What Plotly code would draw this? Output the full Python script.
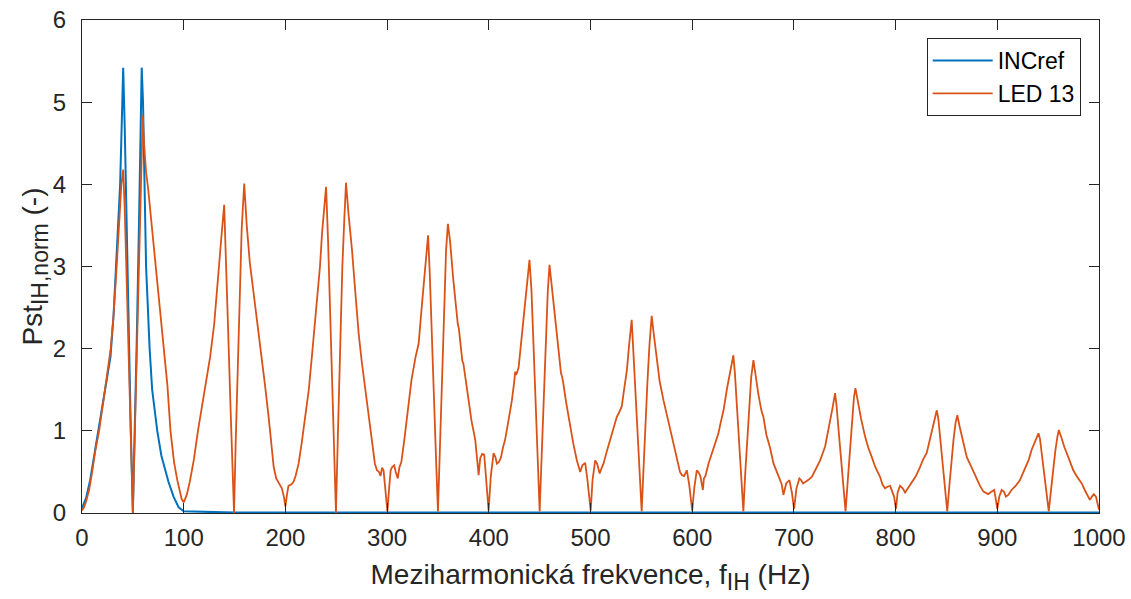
import plotly.graph_objects as go

# ---------------- data ----------------
inc_freq = [0, 4, 8, 12, 16, 20, 24, 28, 31, 33.5, 35.5, 37.5, 39, 40.5, 42, 44, 46, 48, 50,
            52, 54, 56, 57.5, 58.7, 60, 61.5, 63, 66.5, 69, 74, 78, 85, 90, 95, 100, 150, 300,
            500, 700, 1000]
inc_pst = [0.06, 0.18, 0.4, 0.7, 1.0, 1.3, 1.6, 1.9, 2.4, 3.0, 3.5, 4.0, 4.7, 5.42, 4.7, 3.4, 2.2, 1.0, 0.0,
           1.0, 2.2, 3.5, 4.7, 5.42, 5.0, 4.0, 3.0, 2.0, 1.5, 1.0, 0.7, 0.38, 0.2, 0.07, 0.02, 0.005, 0.005,
           0.005, 0.005, 0.005]

led_freq_0_200 = [0, 2, 4, 7, 10, 13, 16.8, 20, 24, 28.2, 31, 34.1, 36.5, 38.7, 40.5, 42, 44, 46, 48, 50,
                  52, 54, 56, 58, 59.7, 61, 63, 65, 68.5, 72.5, 76.5, 80.7, 84, 87, 90.5, 93.7, 96, 98, 100,
                  103, 106, 110, 114, 118, 122, 126, 130, 134, 137, 139.8, 142, 144, 146, 148, 149.5,
                  151, 153, 155, 157, 159.5, 162, 165, 168, 171, 174, 177, 180, 183.5, 186, 188.5, 191,
                  193.5, 196.5, 198.5, 200]
led_pst_0_200 = [0.03, 0.07, 0.14, 0.28, 0.5, 0.75, 1.0, 1.3, 1.62, 2.0, 2.4, 3.0, 3.5, 4.0, 4.18, 3.7, 2.8, 1.9, 0.95, 0.0,
                 1.0, 2.1, 3.2, 4.2, 4.84, 4.5, 4.15, 3.95, 3.5, 3.0, 2.5, 2.0, 1.55, 1.0, 0.62, 0.4, 0.26, 0.17, 0.13,
                 0.22, 0.38, 0.65, 1.0, 1.3, 1.55, 1.9, 2.3, 2.85, 3.35, 3.75, 3.0, 2.1, 1.3, 0.5, 0.0,
                 0.8, 1.8, 2.7, 3.45, 4.01, 3.5, 3.05, 2.75, 2.5, 2.2, 1.9, 1.55, 1.17, 0.85, 0.56, 0.42,
                 0.36, 0.3, 0.2, 0.08]

led_freq_200_400 = [201.5, 203, 206, 208, 210, 213, 216, 219.6, 223, 226, 229, 231, 234, 236, 238, 240,
                    242, 244, 246, 248, 249.7, 251.5, 254, 256, 258, 259.6, 262, 265.5, 269, 272, 275,
                    278.6, 282, 285, 288, 290, 292, 293.5, 295, 296.5, 298.5, 300.3, 302, 303.5, 305,
                    307, 308.5, 310.5, 312, 314, 317, 320, 324, 328, 331, 334, 336, 338, 340.3, 342, 344,
                    346, 348, 350, 352, 354, 356, 358, 359.8, 362, 365, 368, 369.5, 370.5, 372, 374, 375,
                    377, 380, 383, 386.7, 389, 390, 391.6, 393.5, 395.5, 397, 399.8]
led_pst_200_400 = [0.22, 0.33, 0.35, 0.38, 0.45, 0.6, 0.85, 1.17, 1.5, 1.9, 2.3, 2.59, 3.0, 3.4, 3.75, 3.97,
                   3.3, 2.4, 1.5, 0.6, 0.0, 0.9, 2.1, 3.0, 3.6, 4.02, 3.65, 3.2, 2.65, 2.19, 1.85,
                   1.5, 1.15, 0.85, 0.6, 0.52, 0.5, 0.45, 0.55, 0.52, 0.25, 0.02, 0.3, 0.52, 0.56,
                   0.58, 0.5, 0.42, 0.55, 0.62, 0.9, 1.2, 1.62, 1.9, 2.06, 2.5, 2.79, 3.1, 3.38, 2.9, 2.1,
                   1.4, 0.7, 0.02, 0.8, 1.7, 2.5, 3.2, 3.52, 3.3, 2.85, 2.45, 2.3, 2.25, 2.05, 1.85, 1.82,
                   1.65, 1.37, 1.12, 0.89, 0.62, 0.46, 0.67, 0.72, 0.71, 0.45, 0.03]

led_freq_400_600 = [402, 404.7, 406.5, 408, 410, 412, 414, 416, 419, 422.7, 425, 426, 427, 429.3, 432,
                    434.2, 437, 440, 442, 444, 446, 448, 450, 452, 454, 456, 458, 459.7, 462, 464, 467,
                    469, 471, 472, 473, 476, 480, 483, 486.6, 488.5, 489.9, 492, 494.8, 497, 500.2, 502,
                    504.6, 506.5, 509, 511, 512.8, 516, 519.4, 522, 525.9, 528, 530.8, 533, 535.8, 538,
                    540.5, 542, 544, 546, 548, 550.3, 552, 554, 556, 558, 560.2, 562, 565, 568, 571.8,
                    575, 578, 581.6, 585, 588, 590, 592, 594.7, 597, 600]
led_pst_400_600 = [0.45, 0.73, 0.68, 0.6, 0.62, 0.68, 0.8, 0.89, 1.1, 1.37, 1.6, 1.72, 1.68, 1.77, 2.1,
                   2.39, 2.75, 3.08, 2.7, 2.0, 1.3, 0.6, 0.02, 0.7, 1.4, 2.1, 2.7, 3.02, 2.75, 2.45, 2.1,
                   1.85, 1.7, 1.66, 1.6, 1.35, 1.05, 0.85, 0.64, 0.55, 0.5, 0.58, 0.61, 0.4, 0.03, 0.4,
                   0.64, 0.6, 0.48, 0.55, 0.6, 0.75, 0.89, 1.0, 1.17, 1.22, 1.3, 1.5, 1.74, 2.05,
                   2.35, 2.0, 1.5, 1.0, 0.5, 0.02, 0.5, 1.1, 1.6, 2.05, 2.4, 2.2, 1.9, 1.6, 1.37,
                   1.2, 1.05, 0.85, 0.65, 0.5, 0.46, 0.45, 0.52, 0.35, 0.03]

led_freq_600_800 = [602, 604.5, 606, 608, 609.5, 610.5, 611.5, 613, 616, 619.3, 622, 625.8, 628, 630.8,
                    634, 637, 640.5, 642, 644, 646, 648, 650.3, 652, 654, 656, 658, 660.2, 662, 665, 668,
                    670, 673, 676.6, 680, 684.8, 688, 689.7, 692.4, 695.6, 698, 700.2, 702.5, 705.4, 707,
                    709, 712, 714, 717.6, 721, 725.8, 730.7, 733, 735.6, 738, 740.5, 742, 744, 746, 748,
                    750.8, 753, 755, 757, 759, 760.5, 763, 766, 770, 773, 776.6, 780, 784.7, 787, 789.6,
                    792, 794.6, 796.5, 798.5, 800.4]
led_pst_600_800 = [0.3, 0.52, 0.5, 0.45, 0.35, 0.28, 0.42, 0.45, 0.6, 0.73, 0.85, 0.97, 1.1, 1.25,
                   1.5, 1.7, 1.92, 1.7, 1.3, 0.9, 0.45, 0.02, 0.45, 0.9, 1.3, 1.65, 1.86, 1.7, 1.45, 1.25,
                   1.17, 0.95, 0.79, 0.6, 0.44, 0.35, 0.22, 0.36, 0.4, 0.25, 0.05, 0.3, 0.42, 0.4,
                   0.36, 0.38, 0.4, 0.44, 0.52, 0.64, 0.81, 0.95, 1.09, 1.28, 1.46, 1.3, 1.0, 0.7, 0.4,
                   0.02, 0.4, 0.75, 1.1, 1.4, 1.52, 1.35, 1.15, 0.93, 0.8, 0.68, 0.56, 0.44, 0.35, 0.3,
                   0.32, 0.33, 0.26, 0.2, 0.05]

led_freq_800_1000 = [802, 804.3, 807, 809.3, 812, 815.9, 820, 824.1, 827, 830.6, 834, 837, 840.5, 842,
                     844, 846, 848, 850.8, 853, 855, 857, 859, 860.7, 863, 866, 870, 873, 876.6, 880, 883,
                     886.4, 889, 891, 893, 895, 897, 898.5, 900, 902, 904.3, 906.5, 908.5, 910.8, 914, 918,
                     922.3, 925, 928.9, 931, 933.8, 937, 940.5, 942, 944, 946, 948, 950.6, 953, 955, 957,
                     959, 960.5, 963, 966, 969.8, 972, 974.7, 978, 983, 986, 989.5, 991, 993, 995, 997,
                     998.5, 1000]
led_pst_800_1000 = [0.25, 0.33, 0.3, 0.25, 0.3, 0.36, 0.45, 0.56, 0.65, 0.73, 0.9, 1.05, 1.25, 1.15,
                    0.9, 0.65, 0.4, 0.02, 0.35, 0.65, 0.9, 1.1, 1.19, 1.05, 0.88, 0.68, 0.6, 0.5, 0.4, 0.33,
                    0.26, 0.24, 0.23, 0.25, 0.27, 0.28, 0.17, 0.05, 0.2, 0.28, 0.26, 0.2, 0.22, 0.28, 0.33,
                    0.4, 0.48, 0.58, 0.65, 0.77, 0.86, 0.97, 0.9, 0.7, 0.5, 0.3, 0.02, 0.3, 0.55, 0.75,
                    0.92, 1.01, 0.92, 0.8, 0.68, 0.6, 0.52, 0.45, 0.36, 0.28, 0.2, 0.16, 0.2, 0.23, 0.2,
                    0.1, 0.04]

x_ticks = [0, 100, 200, 300, 400, 500, 600, 700, 800, 900, 1000]
y_ticks = [0, 1, 2, 3, 4, 5, 6]

series_names = ["INCref", "LED 13"]
x_title = "Meziharmonická frekvence, f<sub><span style='font-size:23px'>IH</span></sub> (Hz)"
y_title = "Pst<sub><span style='font-size:23px'>IH,norm</span></sub> (-)"

# ---------------- figure ----------------
led_freq = led_freq_0_200 + led_freq_200_400 + led_freq_400_600 + led_freq_600_800 + led_freq_800_1000
led_pst = led_pst_0_200 + led_pst_200_400 + led_pst_400_600 + led_pst_600_800 + led_pst_800_1000

BLUE = "#0072BD"
ORANGE = "#D95319"
INK = "#262626"
FONT = "Liberation Sans, Arial, Helvetica, sans-serif"

fig = go.Figure()
fig.add_trace(go.Scatter(x=inc_freq, y=inc_pst, mode="lines", name=series_names[0],
                         line=dict(color=BLUE, width=2)))
fig.add_trace(go.Scatter(x=led_freq, y=led_pst, mode="lines", name=series_names[1],
                         line=dict(color=ORANGE, width=1.8)))

axis_common = dict(
    showline=True, linecolor=INK, linewidth=1, mirror="ticks",
    ticks="inside", ticklen=10, tickwidth=1, tickcolor=INK,
    showgrid=False, zeroline=False, automargin=False,
    tickfont=dict(family=FONT, size=24, color=INK),
)

fig.update_layout(
    width=1131, height=599,
    margin=dict(l=82, r=32, t=20, b=86),
    paper_bgcolor="white", plot_bgcolor="white",
    font=dict(family=FONT, size=24, color=INK),
    xaxis=dict(range=[0, 1000], tickvals=x_ticks, ticktext=[str(v) for v in x_ticks],
               ticklabelstandoff=3,
               title=dict(text=x_title, font=dict(family=FONT, size=28, color=INK), standoff=14),
               **axis_common),
    yaxis=dict(range=[0, 6], tickvals=y_ticks, ticktext=[str(v) for v in y_ticks],
               ticklabelstandoff=10,
               title=dict(text=y_title, font=dict(family=FONT, size=28, color=INK), standoff=0),
               **axis_common),
    legend=dict(x=0.982, y=0.9635, xanchor="right", yanchor="top",
                bgcolor="white", bordercolor=INK, borderwidth=1,
                font=dict(family=FONT, size=23, color="black"),
                tracegroupgap=0, itemwidth=60),
    showlegend=True,
)

fig.write_html("out.html", config={"displayModeBar": False},
               post_script="document.body.style.margin='0px';")
